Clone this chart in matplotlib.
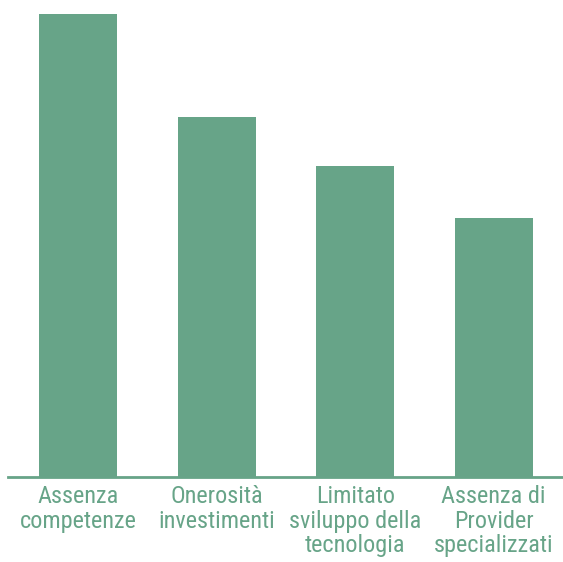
import matplotlib
matplotlib.use('Agg')
import matplotlib.pyplot as plt
from matplotlib import font_manager

# data
categories = ['Assenza\ncompetenze', 'Onerosità\ninvestimenti',
              'Limitato\nsviluppo della\ntecnologia', 'Assenza di\nProvider\nspecializzati']
values = [45, 35, 30.2, 25.2]

green = '#67a488'

names = set(f.name for f in font_manager.fontManager.ttflist)
fam = 'DejaVu Sans'
for cand in ['Liberation Sans Narrow', 'Roboto Condensed', 'DejaVu Sans Condensed']:
    if cand in names:
        fam = cand
        break
plt.rcParams['font.family'] = [fam, 'DejaVu Sans']

fig = plt.figure(figsize=(5.63, 5.62), dpi=100)
ax = fig.add_axes([8/563, 85/562, 555/563, 463/562])

x = range(len(values))
ax.bar(x, values, width=0.563, color=green)
ax.set_xlim(-0.505, 3.50)
ax.set_ylim(0, 45)

for s in ['top', 'right', 'left']:
    ax.spines[s].set_visible(False)
ax.spines['bottom'].set_color(green)
ax.spines['bottom'].set_linewidth(2)
ax.set_yticks([])
ax.set_xticks(list(x))
ax.set_xticklabels(categories, fontsize=17.5, color=green, linespacing=1.08,
                   fontstretch='condensed')
ax.tick_params(axis='x', length=0, pad=6)

fig.savefig('out.png', dpi=100)
